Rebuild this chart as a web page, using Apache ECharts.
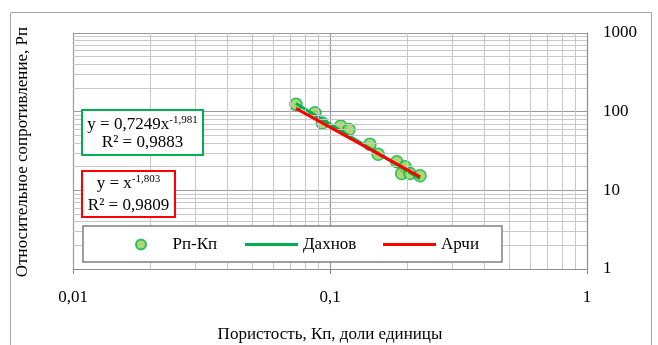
<!DOCTYPE html>
<html>
<head>
<meta charset="utf-8">
<script src="https://cdn.jsdelivr.net/npm/echarts@6/dist/echarts.min.js"></script>
<style>
  html, body { margin: 0; padding: 0; background: #fff; }
  #chart { width: 658px; height: 345px; }
</style>
</head>
<body>
<div id="chart"></div>
<script>
// Measured porosity (Kп, fraction) and relative resistivity (Рп)
const porosity    = [0.0737, 0.0874, 0.0933, 0.110, 0.1186, 0.143, 0.154, 0.1818, 0.1959, 0.190, 0.2048, 0.224];
const resistivity = [123.8, 96.8, 71.6, 65.6, 59.2, 38.4, 28.7, 23.1, 19.9, 16.4, 16.4, 15.3];

// Power-law fits Рп = a·Kп^b
const dakhnovFit = [0.7249, -1.981];
const archieFit  = [1, -1.803];
const dakhnovR2 = 0.9883;
const archieR2  = 0.9809;

const seriesNames = ['Рп-Кп', 'Дахнов', 'Арчи'];
const xTickLabels = ['0,01', '0,1', '1'];
const yTickLabels = ['1', '10', '100', '1000'];
const xMinorGrid = [0.02, 0.03, 0.04, 0.05, 0.06, 0.07, 0.08, 0.09, 0.2, 0.3, 0.4, 0.5, 0.6, 0.7, 0.8, 0.9];
const yMinorGrid = [2, 3, 4, 5, 6, 7, 8, 9, 20, 30, 40, 50, 60, 70, 80, 90, 200, 300, 400, 500, 600, 700, 800, 900];

const FONT = '"Liberation Serif", "Times New Roman", serif';

const xLo = Math.min(...porosity);
const xHi = Math.max(...porosity);
const fitLine = (c) => [[xLo, c[0] * Math.pow(xLo, c[1])], [xHi, c[0] * Math.pow(xHi, c[1])]];
const comma = (v) => String(v).replace('.', ',');
const eqText = (c) => 'y = ' + (c[0] === 1 ? '' : comma(c[0])) + 'x{sup|' + comma(c[1]) + '}';
const r2Text = (r) => 'R² = ' + comma(r);

const chart = echarts.init(document.getElementById('chart'), null, { renderer: 'canvas' });

const labelStyle = { fontFamily: FONT, fontSize: 17, color: '#000' };
const rich = { sup: { fontFamily: FONT, fontSize: 11, verticalAlign: 'top', padding: [0, 0, 9, 0], color: '#000' } };

// one legend block per entry so each sits at a fixed slot inside the frame
const lineIcon = 'path://M0,0H53V3H0Z';
const legendSlot = (name, icon, left) => ({
  data: [{ name: name, icon: icon }],
  left: left, top: 236,
  itemWidth: 53, itemHeight: 10, itemGap: 0,
  padding: 0, z: 8, selectedMode: false,
  textStyle: labelStyle
});

chart.setOption({
  backgroundColor: '#fff',
  animation: false,
  grid: { left: 73, right: 71, top: 33, bottom: 76, containLabel: false, outerBoundsMode: 'none' },
  xAxis: {
    type: 'log', logBase: 10, min: 0.01, max: 1,
    name: 'Пористость, Кп, доли единицы',
    nameLocation: 'middle', nameGap: 57,
    nameTextStyle: labelStyle,
    axisLine: { show: true, lineStyle: { color: '#8c8c8c', width: 1 } },
    axisTick: { show: true, length: 5, lineStyle: { color: '#8c8c8c' } },
    axisLabel: Object.assign({ margin: 20, formatter: (v, i) => xTickLabels[i] }, labelStyle),
    splitLine: { show: true, lineStyle: { color: '#9a9a9a', width: 1.2 } },
    minorTick: { show: false }
  },
  yAxis: {
    type: 'log', logBase: 10, min: 1, max: 1000,
    position: 'right',
    axisLine: { show: true, lineStyle: { color: '#8c8c8c', width: 1 } },
    axisTick: { show: false },
    axisLabel: Object.assign({ margin: 16, padding: [6, 0, 0, 0], formatter: (v, i) => yTickLabels[i] }, labelStyle),
    splitLine: { show: true, lineStyle: { color: '#9a9a9a', width: 1.2 } }
  },
  legend: [
    legendSlot(seriesNames[0], 'circle', 135),
    legendSlot(seriesNames[1], lineIcon, 245),
    legendSlot(seriesNames[2], lineIcon, 383)
  ],
  graphic: [
    // outer chart frame
    { type: 'rect', z: -1, silent: true,
      shape: { x: 10.5, y: 12.5, width: 641, height: 345 },
      style: { fill: null, stroke: '#a6a6a6', lineWidth: 1 } },
    // legend frame
    { type: 'rect', z: 7, silent: true,
      shape: { x: 83, y: 226, width: 419, height: 36 },
      style: { fill: '#fff', stroke: '#808080', lineWidth: 1.5 } },
    // Dakhnov equation box
    { type: 'rect', z: 7, silent: true,
      shape: { x: 82, y: 110, width: 121, height: 45 },
      style: { fill: '#fff', stroke: '#00b050', lineWidth: 2 } },
    { type: 'text', z: 8, silent: true, x: 142.5, y: 125,
      style: { text: eqText(dakhnovFit), rich: rich, font: '17px ' + FONT, fill: '#000', align: 'center', verticalAlign: 'middle' } },
    { type: 'text', z: 8, silent: true, x: 142.5, y: 143,
      style: { text: r2Text(dakhnovR2), font: '17px ' + FONT, fill: '#000', align: 'center', verticalAlign: 'middle' } },
    // Archie equation box
    { type: 'rect', z: 7, silent: true,
      shape: { x: 82, y: 171, width: 93, height: 46 },
      style: { fill: '#fff', stroke: '#ff0000', lineWidth: 2 } },
    { type: 'text', z: 8, silent: true, x: 128.5, y: 184,
      style: { text: eqText(archieFit), rich: rich, font: '17px ' + FONT, fill: '#000', align: 'center', verticalAlign: 'middle' } },
    { type: 'text', z: 8, silent: true, x: 128.5, y: 206,
      style: { text: r2Text(archieR2), font: '17px ' + FONT, fill: '#000', align: 'center', verticalAlign: 'middle' } },
    // vertical axis title
    { type: 'text', z: 8, silent: true, x: 23, y: 152, rotation: Math.PI / 2,
      style: { text: 'Относительное сопротивление, Рп', font: '17px ' + FONT, fill: '#000', align: 'center', verticalAlign: 'middle' } }
  ],
  series: [
    // minor log grid
    {
      type: 'line', data: [], silent: true, z: 1,
      markLine: {
        silent: true, symbol: 'none', animation: false,
        label: { show: false },
        lineStyle: { color: '#c8c8c8', width: 1, type: 'solid' },
        emphasis: { disabled: true },
        data: xMinorGrid.map(v => ({ xAxis: v })).concat(yMinorGrid.map(v => ({ yAxis: v })))
      }
    },
    {
      name: seriesNames[0], type: 'scatter', z: 3,
      data: porosity.map((x, i) => [x, resistivity[i]]),
      symbol: 'circle', symbolSize: 12,
      itemStyle: { color: '#92d050', borderColor: '#00b050', borderWidth: 1.5 }
    },
    {
      name: seriesNames[1], type: 'line', z: 4,
      data: fitLine(dakhnovFit),
      symbol: 'none', showSymbol: false,
      lineStyle: { color: '#00b050', width: 3 },
      itemStyle: { color: '#00b050' }
    },
    {
      name: seriesNames[2], type: 'line', z: 5,
      data: fitLine(archieFit),
      symbol: 'none', showSymbol: false,
      lineStyle: { color: '#ff0000', width: 3 },
      itemStyle: { color: '#ff0000' }
    }
  ]
});
</script>
</body>
</html>
